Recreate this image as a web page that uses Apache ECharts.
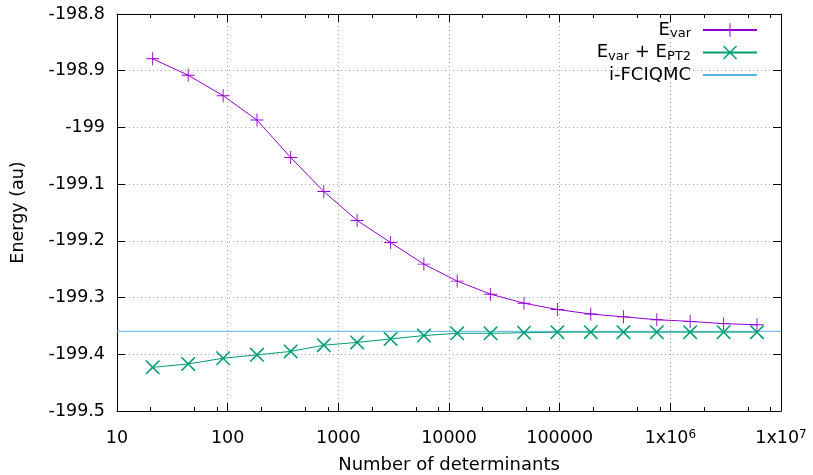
<!DOCTYPE html>
<html>
<head>
<meta charset="utf-8">
<script src="https://cdn.jsdelivr.net/npm/echarts@6/dist/echarts.min.js"></script>
<style>html,body{margin:0;padding:0;background:#fff}#c{width:813px;height:475px}</style>
</head>
<body>
<div id="c"></div>
<script>
// Data
const determinants = [21, 44, 91, 184, 371, 739, 1479, 2966, 5929, 11860, 23760, 47600, 95300, 191000, 377000, 755000, 1510000, 3030000, 6070000];
const eVar = [-198.879, -198.908, -198.944, -198.987, -199.053, -199.113, -199.164, -199.203, -199.241, -199.271, -199.294, -199.310, -199.321, -199.329, -199.334, -199.339, -199.342, -199.346, -199.348];
const eVarPT2 = [-199.423, -199.417, -199.407, -199.401, -199.395, -199.384, -199.379, -199.373, -199.367, -199.363, -199.363, -199.362, -199.361, -199.361, -199.361, -199.361, -199.361, -199.361, -199.361];
const fciqmcValue = -199.3595;
const fciqmcRange = [10, 10000000];
const xTickLabels = ['10', '100', '1000', '10000', '100000', '1x10{sup|6}', '1x10{sup|7}'];
const xMinorTicks = [20, 50, 80, 200, 500, 800, 2000, 5000, 8000, 20000, 50000, 80000, 200000, 500000, 800000, 2000000, 5000000, 8000000];

const PURPLE = '#9400d3', GREEN = '#009e73', BLUE = '#56b4e9';
const FONT = 'DejaVu Sans';
const FS = 17.5;
const PLUS = 'path://M6.5,0H7.5V6.5H14V7.5H7.5V14H6.5V7.5H0V6.5H6.5Z';
const CROSS = 'path://M0,0L1.1,0L7,5.9L12.9,0L14,0L14,1.1L8.1,7L14,12.9L14,14L12.9,14L7,8.1L1.1,14L0,14L0,12.9L5.9,7L0,1.1Z';
const BLANK = 'path://M0,0L1,0L1,1L0,1Z';
const Y_MIN = -199.5, Y_MAX = -198.8;

const chart = echarts.init(document.getElementById('c'), null, {renderer: 'canvas'});
const split = {show: true, lineStyle: {color: '#a0a0a0', type: [1, 3], width: 1}};
const axLine = {show: true, lineStyle: {color: '#000', width: 1}};
const tick8 = {show: true, inside: true, length: 8, lineStyle: {color: '#000', width: 1}};

chart.setOption({
  animation: false,
  backgroundColor: '#fff',
  textStyle: {fontFamily: FONT},
  grid: {left: 117, right: 32, top: 14, bottom: 64, containLabel: false, outerBoundsMode: 'none'},
  legend: {
    orient: 'vertical', align: 'right', right: 50, top: 16,
    itemWidth: 54, itemHeight: 17, itemGap: 3,
    itemStyle: {borderWidth: 0},
    textStyle: {
      fontFamily: FONT, color: '#000', fontSize: 18,
      rich: {
        b: {fontFamily: FONT, fontSize: 18, lineHeight: 21, color: '#000'},
        s: {fontFamily: FONT, fontSize: 13, lineHeight: 8, verticalAlign: 'bottom', color: '#000'},
        g: {fontFamily: FONT, fontSize: 18, lineHeight: 21, width: 7}
      }
    },
    formatter: function (name) {
      if (name === 'Evar') return '{b|E}{s|var}{g| }';
      if (name === 'EvarPT2') return '{b|E}{s|var}{b| + E}{s|PT2}{g| }';
      return '{b|' + name + '}{g| }';
    },
    data: ['Evar', 'EvarPT2', 'i-FCIQMC']
  },
  xAxis: [
    {
      type: 'log', logBase: 10, min: 10, max: 10000000, position: 'bottom',
      name: 'Number of determinants', nameLocation: 'middle', nameGap: 45,
      nameTextStyle: {fontFamily: FONT, fontSize: 18, color: '#000'},
      axisLine: axLine, splitLine: split, axisTick: tick8,
      axisLabel: {
        show: true, margin: 18, color: '#000', fontFamily: FONT, fontSize: FS,
        formatter: function (v) {
          const k = Math.round(Math.log10(v));
          return xTickLabels[k - 1] !== undefined ? xTickLabels[k - 1] : '';
        },
        rich: {
          sup: {fontFamily: FONT, fontSize: 12, lineHeight: 8, verticalAlign: 'top', color: '#000'}
        }
      }
    },
    {
      type: 'log', logBase: 10, min: 10, max: 10000000, position: 'top',
      axisLine: axLine, splitLine: {show: false}, axisTick: tick8, axisLabel: {show: false}
    }
  ],
  yAxis: [
    {
      type: 'value', position: 'left', min: Y_MIN, max: Y_MAX, interval: 0.1,
      name: 'Energy (au)', nameLocation: 'middle', nameGap: 90, nameRotate: 90,
      nameTextStyle: {fontFamily: FONT, fontSize: FS, color: '#000'},
      axisLine: axLine, splitLine: split, axisTick: tick8,
      axisLabel: {margin: 12, color: '#000', fontFamily: FONT, fontSize: FS}
    },
    {
      type: 'value', position: 'right', min: Y_MIN, max: Y_MAX, interval: 0.1,
      axisLine: axLine, splitLine: {show: false}, axisTick: tick8, axisLabel: {show: false}
    }
  ],
  series: [
    {
      name: 'minorTicks', type: 'custom', xAxisIndex: 0, yAxisIndex: 0, silent: true, z: 10,
      data: xMinorTicks.map(v => [v]),
      renderItem: function (params, api) {
        const v = api.value(0);
        const b = api.coord([v, Y_MIN]);
        const t = api.coord([v, Y_MAX]);
        const st = {stroke: '#000', lineWidth: 1};
        const x = Math.round(b[0]) + 0.5;
        return {
          type: 'group',
          children: [
            {type: 'line', shape: {x1: x, y1: b[1], x2: x, y2: b[1] - 4}, style: st},
            {type: 'line', shape: {x1: x, y1: t[1], x2: x, y2: t[1] + 4}, style: st}
          ]
        };
      }
    },
    {
      name: 'i-FCIQMC', type: 'line', xAxisIndex: 0, yAxisIndex: 0,
      data: fciqmcRange.map(x => [x, fciqmcValue]),
      symbol: BLANK, symbolSize: 1, showSymbol: false, color: BLUE,
      itemStyle: {color: 'rgba(0,0,0,0)'},
      lineStyle: {color: BLUE, width: 1}, z: 2
    },
    {
      name: 'EvarPT2', type: 'line', xAxisIndex: 0, yAxisIndex: 0,
      data: determinants.map((x, i) => [x, eVarPT2[i]]),
      symbol: CROSS, symbolSize: 14, showAllSymbol: true, color: GREEN,
      itemStyle: {color: GREEN}, lineStyle: {color: GREEN, width: 1}, z: 3
    },
    {
      name: 'Evar', type: 'line', xAxisIndex: 0, yAxisIndex: 0,
      data: determinants.map((x, i) => [x, eVar[i]]),
      symbol: PLUS, symbolSize: 13, showAllSymbol: true, color: PURPLE,
      itemStyle: {color: PURPLE}, lineStyle: {color: PURPLE, width: 1}, z: 4
    }
  ]
});
</script>
</body>
</html>
